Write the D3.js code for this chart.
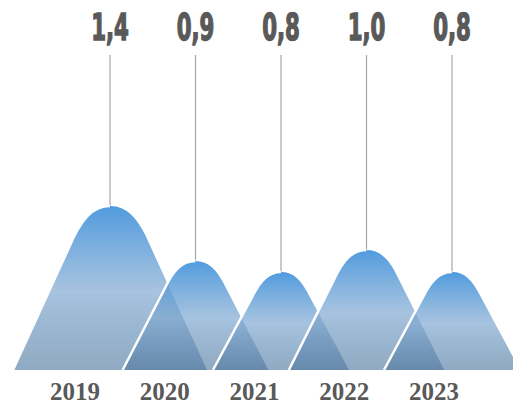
<!DOCTYPE html>
<html>
<head>
<meta charset="utf-8">
<script src="https://cdn.jsdelivr.net/npm/d3@7"></script>
<style>
  html, body { margin: 0; padding: 0; background: #ffffff; }
  svg { display: block; }
</style>
</head>
<body>
<svg id="chart" width="513" height="407"></svg>
<script>
// ---- data ----
const years = ["2019", "2020", "2021", "2022", "2023"];
const values = [1.4, 0.9, 0.8, 1.0, 0.8];
const valueLabels = ["1,4", "0,9", "0,8", "1,0", "0,8"];

// ---- layout ----
const W = 513, H = 407;
const base = 370;
const svg = d3.select("#chart");

const xPeak = d3.scalePoint().domain(years).range([110, 452]);
const xLabel = d3.scalePoint().domain(years).range([75, 434]);
const y = d3.scaleLinear().domain([0, 1.4]).range([base - 10, base - 164]);
const halfW = d3.scaleLinear().domain([0.8, 1.4]).range([68, 97]);

// gradient
const defs = svg.append("defs");
const grad = defs.append("linearGradient")
  .attr("id", "peakGrad").attr("x1", 0).attr("y1", 0).attr("x2", 0).attr("y2", 1);
grad.append("stop").attr("offset", "0%").attr("stop-color", "#2f88d8").attr("stop-opacity", 0.84);
grad.append("stop").attr("offset", "52%").attr("stop-color", "#80a9d1").attr("stop-opacity", 0.70);
grad.append("stop").attr("offset", "100%").attr("stop-color", "#4d769e").attr("stop-opacity", 0.62);

function peakPath(cx, hw, h, full) {
  const p = d3.path();
  p.moveTo(cx - hw, base);
  p.lineTo(cx - 0.42 * hw, base - 0.75 * h);
  p.bezierCurveTo(cx - 0.30 * hw, base - 0.92 * h, cx - 0.18 * hw, base - h, cx, base - h);
  if (full) {
    p.bezierCurveTo(cx + 0.18 * hw, base - h, cx + 0.30 * hw, base - 0.92 * h, cx + 0.42 * hw, base - 0.75 * h);
    p.lineTo(cx + hw, base);
    p.closePath();
  }
  return p.toString();
}

const data = years.map((yr, i) => ({ yr, v: values[i], lab: valueLabels[i] }));

// leader lines
svg.append("g").selectAll("line").data(data).join("line")
  .attr("x1", d => xPeak(d.yr)).attr("x2", d => xPeak(d.yr))
  .attr("y1", 55).attr("y2", d => y(d.v))
  .attr("stroke", "#a6a6a6").attr("stroke-width", 1.2);

// peaks
const gPeaks = svg.append("g");
data.forEach(d => {
  const cx = xPeak(d.yr), hw = halfW(d.v), h = base - y(d.v);
  gPeaks.append("path")
    .attr("d", peakPath(cx, hw, h, true))
    .attr("fill", "url(#peakGrad)");
  gPeaks.append("path")
    .attr("d", peakPath(cx, hw, h, false))
    .attr("fill", "none")
    .attr("stroke", "#ffffff")
    .attr("stroke-width", 2.5);
});

// value labels
svg.append("g").selectAll("text").data(data).join("text")
  .attr("transform", d => `translate(${xPeak(d.yr)},40) scale(0.64,1)`)
  .attr("text-anchor", "middle")
  .attr("font-family", "'Liberation Sans Narrow', 'DejaVu Sans Condensed', sans-serif")
  .attr("font-weight", "bold")
  .attr("font-size", 37)
  .attr("fill", "#595959")
  .attr("stroke", "#595959").attr("stroke-width", 1.4)
  .text(d => d.lab);

// year labels
svg.append("g").selectAll("text").data(data).join("text")
  .attr("x", d => xLabel(d.yr)).attr("y", 400)
  .attr("text-anchor", "middle")
  .attr("font-family", "'Liberation Serif', 'Times New Roman', serif")
  .attr("font-weight", "bold")
  .attr("font-size", 25)
  .attr("fill", "#595959")
  .text(d => d.yr);
</script>
</body>
</html>
